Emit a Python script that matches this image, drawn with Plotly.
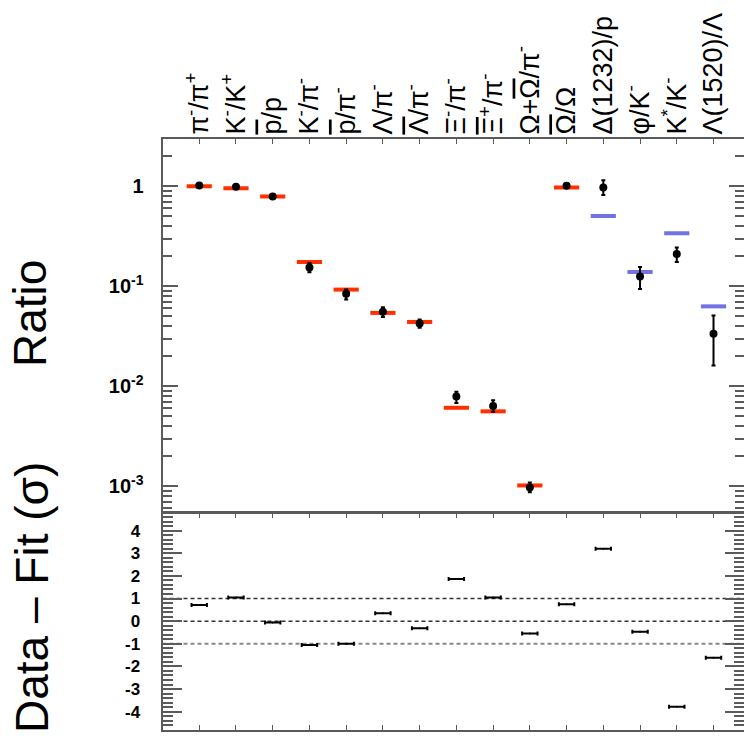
import plotly.graph_objects as go

# ---------------- data ----------------
categories = [
    "π<sup>-</sup>/π<sup>+</sup>",
    "K<sup>-</sup>/K<sup>+</sup>",
    "<span style=\"text-decoration:overline\">p</span>/p",
    "K<sup>-</sup>/π<sup>-</sup>",
    "<span style=\"text-decoration:overline\">p</span>/π<sup>-</sup>",
    "Λ/π<sup>-</sup>",
    "<span style=\"text-decoration:overline\">Λ</span>/π<sup>-</sup>",
    "Ξ<sup>-</sup>/π<sup>-</sup>",
    "<span style=\"text-decoration:overline\">Ξ</span><sup>+</sup>/π<sup>-</sup>",
    "Ω+<span style=\"text-decoration:overline\">Ω</span>/π<sup>-</sup>",
    "<span style=\"text-decoration:overline\">Ω</span>/Ω",
    "Δ(1232)/p",
    "φ/K<sup>-</sup>",
    "K<sup>*</sup>/K<sup>-</sup>",
    "Λ(1520)/Λ",
]
ratio_data = [1.02, 0.99, 0.79, 0.154, 0.084, 0.0558, 0.0425, 0.0079, 0.00636,
              0.00097, 1.01, 0.97, 0.125, 0.21, 0.0336]
ratio_err_plus = [0.03, 0.03, 0.02, 0.017, 0.009, 0.0058, 0.004, 0.0009, 0.0009,
                  0.00012, 0.03, 0.18, 0.031, 0.034, 0.0175]
ratio_err_minus = [0.03, 0.03, 0.02, 0.016, 0.010, 0.0065, 0.004, 0.0011, 0.0008,
                   0.0001, 0.03, 0.15, 0.031, 0.035, 0.0175]
fit_values = [1.0, 0.955, 0.79, 0.175, 0.0927, 0.0542, 0.044, 0.0061, 0.00562,
              0.00102, 0.97, 0.506, 0.139, 0.339, 0.063]
fit_group = ["stable"] * 11 + ["resonance"] * 4
residuals = [0.71, 1.05, -0.06, -1.05, -1.0, 0.35, -0.31, 1.86, 1.05, -0.55,
             0.75, 3.2, -0.47, -3.78, -1.62]

ratio_tickvals = [1, 0.1, 0.01, 0.001]
ratio_ticktext = ["1", "10<sup>-1</sup>", "10<sup>-2</sup>", "10<sup>-3</sup>"]
resid_tickvals = [4, 3, 2, 1, 0, -1, -2, -3, -4]
resid_ticktext = ["4", "3", "2", "1", "0", "-1", "-2", "-3", "-4"]
sigma_lines = [1, 0, -1]

# ---------------- figure ----------------
W = H = 744
xpos = list(range(len(categories)))
group_color = {"stable": "#ff3000", "resonance": "#7272e4"}
fit_colors = [group_color[g] for g in fit_group]

fig = go.Figure()

fig.add_trace(go.Scatter(
    x=xpos, y=fit_values, mode="markers", xaxis="x", yaxis="y",
    marker=dict(symbol="line-ew", size=18, line=dict(width=4, color=fit_colors)),
    showlegend=False, hoverinfo="skip"))

fig.add_trace(go.Scatter(
    x=xpos, y=ratio_data, mode="markers", xaxis="x", yaxis="y",
    marker=dict(symbol="circle", size=8, color="black"),
    error_y=dict(type="data", array=ratio_err_plus, arrayminus=ratio_err_minus,
                 color="black", thickness=2, width=2),
    showlegend=False))

fig.add_trace(go.Scatter(
    x=xpos, y=residuals, mode="markers", xaxis="x2", yaxis="y2",
    marker=dict(size=2, color="black"),
    error_x=dict(type="constant", value=0.21, color="black", thickness=2, width=2),
    showlegend=False))

# dashed reference lines in the residual panel
for v, col, lw in zip(sigma_lines, ["#333333", "#333333", "#888888"], [1.5, 1.5, 2]):
    fig.add_shape(type="line", xref="x2 domain", yref="y2", x0=0, x1=1, y0=v, y1=v,
                  line=dict(color=col, width=lw, dash="4px,3px"), layer="below")

minor_log = [m * 10.0 ** k for k in range(-4, 1) for m in range(2, 10)]

axis_col = "#5a5a5a"
xl, xr = 162.5, 744
ytop, ymid_u, ymid_l, ybot = 139, 512, 513, 730

fig.update_layout(
    width=W, height=H, margin=dict(l=0, r=0, t=0, b=0, autoexpand=False),
    paper_bgcolor="white", plot_bgcolor="white",
    font=dict(family="Liberation Sans", color="black"),
    xaxis=dict(
        domain=[xl / W, xr / W], anchor="y", side="top", automargin=False,
        range=[-1.0, 14.83], tickmode="array", tickvals=xpos, ticktext=categories,
        tickangle=-90, tickfont=dict(size=27, family="Liberation Sans"),
        ticks="inside", ticklen=5, tickcolor=axis_col, tickwidth=1,
        showline=True, linecolor=axis_col, linewidth=2, mirror=True,
        showgrid=False, zeroline=False, ticklabelstandoff=-3),
    yaxis=dict(
        domain=[1 - ymid_u / H, 1 - ytop / H], anchor="x", type="log",
        automargin=False,
        range=[-3.257, 0.473], tickmode="array", tickvals=ratio_tickvals,
        ticktext=ratio_ticktext,
        tickfont=dict(size=20, family="Liberation Sans", weight="bold"),
        ticks="inside", ticklen=15, tickcolor=axis_col, tickwidth=1.5,
        minor=dict(tickmode="array", tickvals=minor_log, ticks="inside",
                   ticklen=9, tickcolor=axis_col, tickwidth=1.5),
        showline=True, linecolor=axis_col, linewidth=2, mirror="ticks",
        showgrid=False, zeroline=False, ticklabelstandoff=13),
    xaxis2=dict(
        domain=[xl / W, xr / W], anchor="y2", matches="x", automargin=False,
        range=[-1.0, 14.83], tickmode="array", tickvals=xpos, showticklabels=False,
        ticks="inside", ticklen=5, tickcolor=axis_col, tickwidth=1,
        showline=True, linecolor=axis_col, linewidth=2, mirror="ticks",
        showgrid=False, zeroline=False),
    yaxis2=dict(
        domain=[1 - ybot / H, 1 - ymid_l / H], anchor="x2", automargin=False,
        range=[-4.81, 4.78], tickmode="array", tickvals=resid_tickvals,
        ticktext=resid_ticktext,
        tickfont=dict(size=17, family="Liberation Sans", weight="bold"),
        ticks="inside", ticklen=19, tickcolor=axis_col, tickwidth=1.5,
        minor=dict(dtick=0.2, ticks="inside", ticklen=10, tickcolor=axis_col,
                   tickwidth=1.5),
        showline=True, linecolor=axis_col, linewidth=2, mirror="ticks",
        showgrid=False, zeroline=False, ticklabelstandoff=17),
)

fig.add_annotation(text="Ratio", xref="paper", yref="paper", x=30 / W, y=1 - 314 / H,
                   xanchor="center", yanchor="middle", textangle=-90, showarrow=False,
                   font=dict(size=46, family="Liberation Sans", color="black"))
fig.add_annotation(text="Data – Fit (σ)", xref="paper", yref="paper", x=32 / W,
                   y=1 - 598 / H, xanchor="center", yanchor="middle", textangle=-90,
                   showarrow=False,
                   font=dict(size=46, family="Liberation Sans", color="black"))

fig.write_html("out.html")
